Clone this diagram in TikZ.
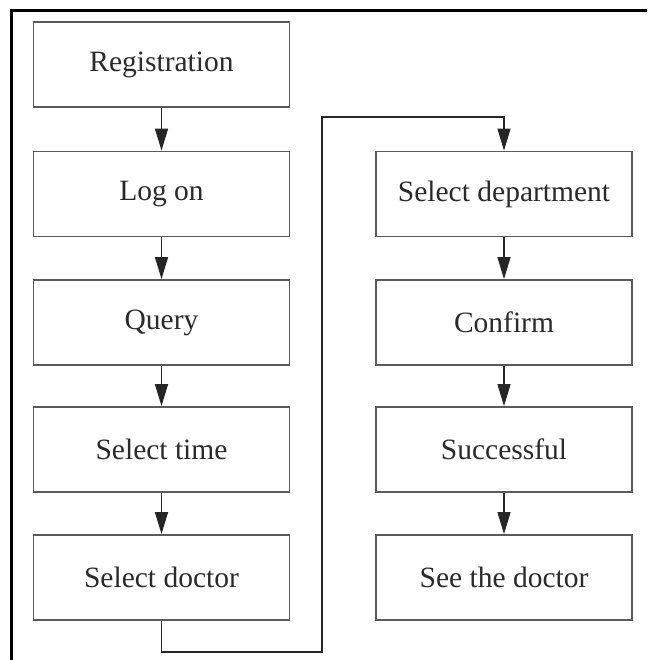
\documentclass[tikz,border=0pt]{standalone}
\usepackage{fontspec}
\setmainfont{Liberation Serif}
\usetikzlibrary{arrows.meta}
\definecolor{boxline}{HTML}{5A5A5A}
\definecolor{txt}{HTML}{2A2A2A}
\tikzset{
  stepbox/.style={draw=boxline, line width=1.8pt, minimum width=256pt,
    minimum height=85pt, inner sep=0pt, font=\fontsize{29.5}{32}\selectfont,
    text=txt},
  flow/.style={draw=black!85, line width=1.3pt,
    -{Triangle[length=22pt,width=13pt]}},
}
\begin{document}
\begin{tikzpicture}[x=1pt,y=-1pt]
  \useasboundingbox (0,0) rectangle (647,660);
  \fill[white] (0,0) rectangle (647,660);
  % outer frame (open towards the right and bottom edges)
  \draw[line width=3pt] (11.5,660) -- (11.5,11) -- (647,11);

  % left column
  \node[stepbox] (reg)  at (161.5,64.5)  {Registration};
  \node[stepbox] (log)  at (161.5,194)   {Log on};
  \node[stepbox] (qry)  at (161.5,322.5) {Query};
  \node[stepbox] (stm)  at (161.5,449.5) {Select time};
  \node[stepbox] (sdoc) at (161.5,577.5) {Select doctor};

  % right column
  \node[stepbox] (sdep) at (504,194)   {Select department};
  \node[stepbox] (cnf)  at (504,322.5) {Confirm};
  \node[stepbox] (suc)  at (504,449.5) {Successful};
  \node[stepbox] (see)  at (504,577.5) {See the doctor};

  % routing points of the link between the columns
  \coordinate (lowturn) at (322,652);
  \coordinate (highturn) at (322,117);

  \draw[flow] (reg) -- (log);
  \draw[flow] (log) -- (qry);
  \draw[flow] (qry) -- (stm);
  \draw[flow] (stm) -- (sdoc);
  \draw[flow] (sdoc.south) |- (lowturn) -- (highturn) -| (sdep.north);
  \draw[flow] (sdep) -- (cnf);
  \draw[flow] (cnf) -- (suc);
  \draw[flow] (suc) -- (see);
\end{tikzpicture}
\end{document}
